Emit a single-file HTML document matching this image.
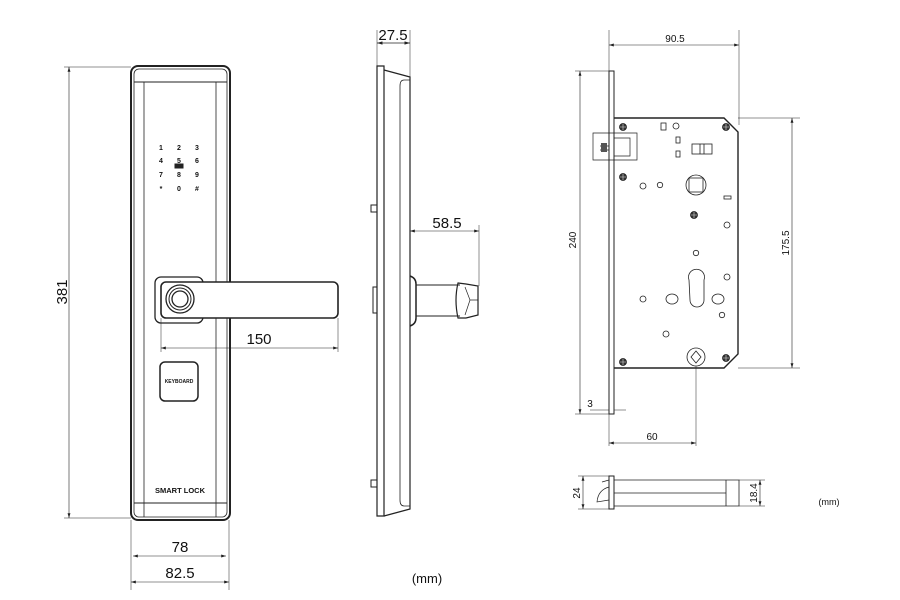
<!DOCTYPE html>
<html><head><meta charset="utf-8"><style>
html,body{margin:0;padding:0;background:#fff;width:900px;height:600px;overflow:hidden}
svg{display:block}
text{font-family:"Liberation Sans",Arial,sans-serif;fill:#111}
</style></head><body>
<svg width="900" height="600" viewBox="0 0 900 600" xmlns="http://www.w3.org/2000/svg">
<defs>
<marker id="a" viewBox="0 0 10 6" refX="10" refY="3" markerWidth="8" markerHeight="5" orient="auto-start-reverse"><path d="M0,0L10,3L0,6z" fill="#222"/></marker>
</defs>
<g fill="none" stroke="#222" stroke-width="1">
<!-- FRONT VIEW -->
<rect x="131" y="66" width="99" height="454" rx="7" stroke-width="2"/>
<rect x="134" y="69" width="93" height="448" rx="5" stroke-width="0.8"/>
<path d="M134,82 H227 M134,503 H227"/>
<line x1="144" y1="82" x2="144" y2="517" stroke-width="0.8"/>
<line x1="216" y1="82" x2="216" y2="517" stroke-width="0.8"/>
<rect x="155" y="277" width="48" height="46" rx="6" stroke-width="1.3"/>
<rect x="161" y="282" width="177" height="36" rx="5" stroke-width="1.6" fill="#fff"/>
<circle cx="180" cy="299" r="14" stroke-width="1.3"/>
<circle cx="180" cy="299" r="11" stroke-width="1"/>
<circle cx="180" cy="299" r="8" stroke-width="1.3"/>
<rect x="160" y="362" width="38" height="39" rx="5" stroke-width="1.5"/>
<rect x="175" y="164" width="8" height="4" fill="#222"/>
<!-- dims front -->
<line x1="69" y1="67" x2="69" y2="518" stroke-width="0.6" marker-start="url(#a)" marker-end="url(#a)"/>
<path d="M64,67 H131 M64,518 H131" stroke-width="0.5"/>
<line x1="161" y1="348" x2="338" y2="348" stroke-width="0.6" marker-start="url(#a)" marker-end="url(#a)"/>
<path d="M338,318 V352 M161,318 V352" stroke-width="0.5"/>
<path d="M131,520 V590 M229,520 V590" stroke-width="0.5"/>
<line x1="133" y1="556" x2="226" y2="556" stroke-width="0.6" marker-start="url(#a)" marker-end="url(#a)"/>
<line x1="131" y1="582" x2="229" y2="582" stroke-width="0.6" marker-start="url(#a)" marker-end="url(#a)"/>

<!-- SIDE VIEW -->
<path d="M377,66 H384 V516 H377 Z" stroke-width="1.2"/>
<path d="M384,70 L410,77 V509 L384,516" stroke-width="1.2"/>
<path d="M410,80 H404 Q400,80 400,86 V500 Q400,506 404,506 H410" stroke-width="0.8"/>
<path d="M377,205 H371 V212 H377 M377,480 H371 V487 H377 M377,287 H373 V313 H377"/>
<path d="M410,276 Q416,278 416,284 V318 Q416,324 410,326" stroke-width="1.5"/>
<path d="M416,285 H460 M416,316 H460"/>
<path d="M458,283 L466,284 L478,286 V315 L466,318 L458,318 Q454,300 458,283 Z" stroke-width="1.2"/>
<path d="M465,287 L470,300 L465,315 M470,300 H478" stroke-width="0.7"/>
<path d="M377,30 V66 M410,30 V77" stroke-width="0.5"/>
<line x1="377" y1="43" x2="410" y2="43" stroke-width="0.7" marker-start="url(#a)" marker-end="url(#a)"/>
<line x1="410" y1="231" x2="479" y2="231" stroke-width="0.6" marker-start="url(#a)" marker-end="url(#a)"/>
<path d="M479,225 V286" stroke-width="0.5"/>

<!-- MORTISE -->
<rect x="609" y="71" width="5" height="343" stroke-width="1"/>
<path d="M614,118 H724 L738,132 V354 L724,368 H614" stroke-width="1.4"/>
<path d="M593,133 H637 V160 H593 Z M614,138 H630 V156 H614 M600,146 H609 M600,150 H609" stroke-width="0.7"/>
<rect x="601" y="143" width="6" height="9" fill="#555" stroke="none"/>
<g stroke-width="0.8">
<g fill="#333">
<circle cx="623" cy="127" r="3.5"/><circle cx="726" cy="127" r="3.5"/><circle cx="623" cy="177" r="3.5"/>
<circle cx="694" cy="215" r="3.5"/><circle cx="623" cy="362" r="3.5"/><circle cx="726" cy="358" r="3.5"/>
</g>
<path stroke="#ddd" stroke-width="0.6" d="M620,127h6M623,124v6M723,127h6M726,124v6M620,177h6M623,174v6M691,215h6M694,212v6M620,362h6M623,359v6M723,358h6M726,355v6"/>
<rect x="661" y="123" width="5" height="7"/><circle cx="676" cy="126" r="3"/>
<rect x="676" y="137" width="4" height="6"/><rect x="676" y="151" width="4" height="6"/>
<rect x="692" y="144" width="20" height="10"/><path d="M700,144 V154 M704,144 V154"/>
<circle cx="643" cy="186" r="3"/><circle cx="660" cy="185" r="2.7"/>
<circle cx="696" cy="185" r="10"/><rect x="689" y="178" width="14" height="14"/>
<rect x="724" y="196" width="7" height="3"/>
<circle cx="727" cy="225" r="3"/><circle cx="696" cy="253" r="2.7"/><circle cx="727" cy="277" r="3"/>
<path d="M689,280 A8,8 0 1,1 704,280 V300 A6,6 0 0,1 690,300 Z"/>
<ellipse cx="672" cy="299" rx="6" ry="5"/><ellipse cx="718" cy="299" rx="6" ry="5"/>
<circle cx="643" cy="299" r="3"/><circle cx="722" cy="315" r="2.7"/><circle cx="666" cy="334" r="3"/>
<circle cx="696" cy="357" r="9"/><path d="M696,351 L701,357 L696,363 L691,357 Z"/>
</g>
<path d="M609,30 V71 M739,30 V125 M738,118 H800 M738,368 H800" stroke-width="0.5"/>
<line x1="609" y1="45" x2="739" y2="45" stroke-width="0.6" marker-start="url(#a)" marker-end="url(#a)"/>
<line x1="580" y1="71" x2="580" y2="414" stroke-width="0.6" marker-start="url(#a)" marker-end="url(#a)"/>
<path d="M575,71 H609 M575,414 H609" stroke-width="0.5"/>
<line x1="792" y1="118" x2="792" y2="368" stroke-width="0.6" marker-start="url(#a)" marker-end="url(#a)"/>
<path d="M590,410 H609 M614,410 H626" stroke-width="0.5"/>
<path d="M696,366 V446 M609,414 V446" stroke-width="0.5"/>
<line x1="609" y1="443" x2="696" y2="443" stroke-width="0.6" marker-start="url(#a)" marker-end="url(#a)"/>

<!-- BOTTOM VIEW -->
<rect x="609" y="476" width="5" height="33"/>
<path d="M614,480 H739 V506 H614 M614,493 H726 M726,480 V506" stroke-width="0.8"/>
<path d="M609,487 Q598,490 597,502 L609,500 M602,482 L609,480" stroke-width="0.7"/>
<path d="M578,476 H609 M578,509 H609 M739,480 H765 M739,506 H765" stroke-width="0.5"/>
<line x1="583" y1="476" x2="583" y2="509" stroke-width="0.6" marker-start="url(#a)" marker-end="url(#a)"/>
<line x1="760" y1="480" x2="760" y2="506" stroke-width="0.6" marker-start="url(#a)" marker-end="url(#a)"/>
</g>

<g font-size="7" font-weight="bold" text-anchor="middle">
<text x="161" y="150">1</text><text x="179" y="150">2</text><text x="197" y="150">3</text>
<text x="161" y="163">4</text><text x="179" y="163">5</text><text x="197" y="163">6</text>
<text x="161" y="177">7</text><text x="179" y="177">8</text><text x="197" y="177">9</text>
<text x="161" y="191">*</text><text x="179" y="191">0</text><text x="197" y="191">#</text>
<text x="179" y="383" font-size="5">KEYBOARD</text>
<text x="180" y="493" font-size="7.5">SMART LOCK</text>
</g>
<g font-size="15" text-anchor="middle">
<text x="259" y="344">150</text>
<text x="180" y="552">78</text>
<text x="180" y="578">82.5</text>
<text x="67" y="292" transform="rotate(-90 67 292)">381</text>
<text x="393" y="40">27.5</text>
<text x="447" y="228">58.5</text>
<text x="427" y="583" font-size="13">(mm)</text>
</g>
<g font-size="10" text-anchor="middle">
<text x="675" y="42">90.5</text>
<text x="576" y="240" transform="rotate(-90 576 240)">240</text>
<text x="789" y="243" transform="rotate(-90 789 243)">175.5</text>
<text x="590" y="407">3</text>
<text x="652" y="440">60</text>
<text x="580" y="493" transform="rotate(-90 580 493)">24</text>
<text x="757" y="493" transform="rotate(-90 757 493)">18.4</text>
<text x="829" y="505" font-size="9">(mm)</text>
</g>
</svg>
</body></html>
